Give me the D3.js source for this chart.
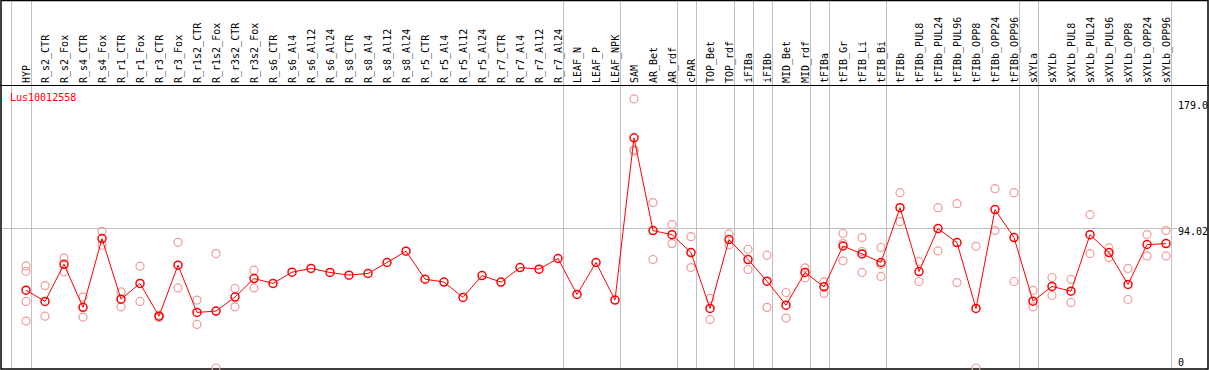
<!DOCTYPE html>
<html>
<head>
<meta charset="utf-8">
<script src="https://cdn.jsdelivr.net/npm/d3@7"></script>
<style>
  body { margin: 0; background: #fff; }
  text { font-family: "DejaVu Sans Mono", monospace; font-size: 10px; }
</style>
</head>
<body>
<div id="chart"></div>
<script>
// gene + sample columns
const geneId = "Lus10012558";

const samples = [
  "HYP", "R_s2_CTR", "R_s2_Fox", "R_s4_CTR", "R_s4_Fox", "R_r1_CTR", "R_r1_Fox",
  "R_r3_CTR", "R_r3_Fox", "R_r1s2_CTR", "R_r1s2_Fox", "R_r3s2_CTR", "R_r3s2_Fox",
  "R_s6_CTR", "R_s6_Al4", "R_s6_Al12", "R_s6_Al24", "R_s8_CTR", "R_s8_Al4",
  "R_s8_Al12", "R_s8_Al24", "R_r5_CTR", "R_r5_Al4", "R_r5_Al12", "R_r5_Al24",
  "R_r7_CTR", "R_r7_Al4", "R_r7_Al12", "R_r7_Al24", "LEAF_N", "LEAF_P", "LEAF_NPK",
  "SAM", "AR_Bet", "AR_rdf", "cPAR", "TOP_Bet", "TOP_rdf", "iFIBa", "iFIBb",
  "MID_Bet", "MID_rdf", "tFIBa", "tFIB_Gr", "tFIB_Li", "tFIB_Bi", "tFIBb",
  "tFIBb_PUL8", "tFIBb_PUL24", "tFIBb_PUL96", "tFIBb_OPP8", "tFIBb_OPP24", "tFIBb_OPP96",
  "sXYLa", "sXYLb", "sXYLb_PUL8", "sXYLb_PUL24", "sXYLb_PUL96", "sXYLb_OPP8",
  "sXYLb_OPP24", "sXYLb_OPP96"
];

// number of columns in each tissue group (separators between them)
const groupSizes = [1, 28, 3, 3, 1, 2, 1, 1, 2, 1, 3, 7, 1, 7];

// mean expression per sample
const means = [
  52.4, 44.8, 69.8, 40.8, 87.1, 46.3, 56.9, 34.9, 69.2, 37.4, 38.3, 47.7, 60.2,
  56.9, 64.5, 67.0, 64.3, 62.5, 63.6, 71.0, 78.6, 59.8, 57.8, 47.5, 62.2,
  57.8, 67.6, 66.5, 73.7, 49.5, 71.0, 45.7,
  154.9, 92.5, 89.7, 77.7, 40.1, 86.4, 73.0, 58.4, 42.3, 64.3, 54.6, 82.1, 76.8, 71.0,
  107.9, 64.9, 93.8, 84.4, 40.1, 106.6, 87.8,
  45.0, 54.9, 51.7, 89.7, 77.7, 56.2, 83.1, 83.7
];

// individual replicates per sample
const replicates = [
  [68.7, 65.1, 44.8, 31.6], [55.5, 34.9], [73.9, 64.7], [47.7, 34.3], [92.0, 82.6],
  [51.2, 41.2], [68.5, 44.8], [34.0, 35.5], [84.6, 53.9], [45.7, 29.3], [77.0, 0],
  [53.5, 41.2], [65.8, 53.9],
  [], [], [], [], [], [], [], [], [], [], [], [], [], [], [], [], [], [], [],
  [181.1, 146.8, 145.9], [111.3, 73.0], [96.5, 83.7], [88.4, 67.6], [46.8, 32.7],
  [90.2, 82.8], [79.9, 66.3], [75.9, 40.8], [50.8, 33.6], [67.4, 60.6], [58.0, 50.2],
  [90.5, 72.1, 83.7], [87.8, 64.3, 78.4], [81.1, 61.6, 69.6],
  [118.0, 98.5], [71.7, 58.2], [107.9, 78.8], [110.6, 57.5], [81.9, 0], [120.7, 92.5],
  [118.0, 58.2],
  [52.2, 41.2], [60.9, 48.8], [59.6, 44.1], [103.2, 77.0], [80.8, 74.3], [67.0, 46.1],
  [89.8, 75.4], [92.5, 75.4]
];

// right-hand axis labels
const axisTicks = [179.0, 94.02, 0];
const gridValue = 94.02;

const W = 1209, H = 370;
const headerY = 85;
const plotRight = 1170;

const svg = d3.select("#chart")
  .append("svg")
    .attr("width", W)
    .attr("height", H);

const x = d3.scalePoint()
  .domain(samples)
  .range([26, 1166]);

const y = d3.scaleLinear()
  .domain([0, 181.7])
  .range([368, 98]);

// group separators
let idx = -1;
const sepX = [x(samples[0]) - 15];
groupSizes.forEach(n => {
  idx += n;
  sepX.push(x(samples[idx]) + 4.5);
});

svg.selectAll(".sep")
  .data(sepX)
  .join("line")
    .attr("class", "sep")
    .attr("x1", d => Math.round(d) + 0.5)
    .attr("x2", d => Math.round(d) + 0.5)
    .attr("y1", 0)
    .attr("y2", H - 1)
    .attr("stroke", "#c0c0c0")
    .attr("stroke-width", 1);

// grid line at the mean level
svg.append("line")
  .attr("x1", 1)
  .attr("x2", 1177)
  .attr("y1", Math.round(y(gridValue)) + 0.5)
  .attr("y2", Math.round(y(gridValue)) + 0.5)
  .attr("stroke", "#c0c0c0");

// frame
svg.append("rect")
  .attr("x", 1)
  .attr("y", 0.5)
  .attr("width", 1207)
  .attr("height", 368.5)
  .attr("fill", "none")
  .attr("stroke", "#000")
  .attr("stroke-width", 1.5);

svg.append("line")
  .attr("x1", 0).attr("x2", W)
  .attr("y1", headerY + 0.5).attr("y2", headerY + 0.5)
  .attr("stroke", "#000");

// column labels
svg.selectAll(".lab")
  .data(samples)
  .join("text")
    .attr("class", "lab")
    .attr("transform", d => `translate(${x(d) + 4},${headerY - 2}) rotate(-90)`)
    .attr("fill", "#000")
    .text(d => d);

// title
svg.append("text")
  .attr("x", 10)
  .attr("y", 101)
  .attr("fill", "red")
  .text(geneId);

// axis labels on the right
svg.selectAll(".tick")
  .data(axisTicks)
  .join("text")
    .attr("class", "tick")
    .attr("x", 1178)
    .attr("y", d => d === 0 ? 366 : y(d) + 7)
    .attr("fill", "#000")
    .text(d => d === 0 ? "0" : (d % 1 === 0 ? d.toFixed(1) : d));

// replicate dots
const repData = [];
replicates.forEach((r, i) => r.forEach(v => repData.push({ s: samples[i], v })));

svg.selectAll(".rep")
  .data(repData)
  .join("circle")
    .attr("class", "rep")
    .attr("cx", d => x(d.s))
    .attr("cy", d => y(d.v))
    .attr("r", 4)
    .attr("fill", "none")
    .attr("stroke", "#f09a9a")
    .attr("stroke-width", 1.2);

// mean line
const line = d3.line()
  .x((d, i) => x(samples[i]))
  .y(d => y(d));

svg.append("path")
  .attr("d", line(means))
  .attr("fill", "none")
  .attr("stroke", "red")
  .attr("stroke-width", 1);

svg.selectAll(".dot")
  .data(means)
  .join("circle")
    .attr("class", "dot")
    .attr("cx", (d, i) => x(samples[i]))
    .attr("cy", d => y(d))
    .attr("r", 4)
    .attr("fill", "none")
    .attr("stroke", "red")
    .attr("stroke-width", 1.5);
</script>
</body>
</html>
